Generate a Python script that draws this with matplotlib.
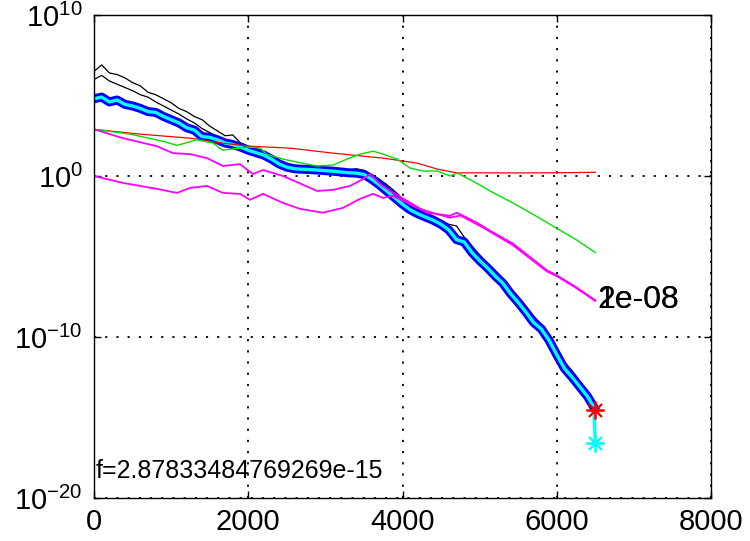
import matplotlib
matplotlib.use('Agg')
import matplotlib.pyplot as plt
import numpy as np

plt.rcParams['font.family'] = ['Liberation Sans', 'DejaVu Sans']
plt.rcParams['mathtext.default'] = 'regular'

# function evaluations and log10 values
evals = [0, 100, 200, 300, 400, 500, 600, 700, 800, 900, 1000, 1100, 1200, 1300,
         1400, 1500, 1600, 1700, 1800, 1900, 2000, 2100, 2200, 2300, 2400, 2500,
         2600, 2700, 2800, 2900, 3000, 3100, 3200, 3300, 3400, 3500, 3600, 3700,
         3800, 3900, 4000, 4100, 4200, 4300, 4400, 4500, 4600, 4700, 4800, 4900,
         5000, 5100, 5200, 5300, 5400, 5500, 5600, 5700, 5800, 5900, 6000, 6100,
         6200, 6300, 6400, 6480]
blue_log = [4.80, 4.90, 4.60, 4.72, 4.45, 4.35, 4.20, 4.00, 3.95, 3.70, 3.50, 3.30,
            3.00, 2.85, 2.45, 2.40, 2.25, 2.05, 1.95, 1.80, 1.60, 1.45, 1.30, 1.05,
            0.75, 0.55, 0.45, 0.42, 0.40, 0.37, 0.33, 0.30, 0.25, 0.20, 0.18, 0.10,
            -0.20, -0.55, -0.95, -1.35, -1.75, -2.10, -2.35, -2.55, -2.75, -3.00,
            -3.35, -3.95, -4.10, -4.75, -5.25, -5.70, -6.20, -6.65, -7.30, -7.85,
            -8.45, -9.10, -9.50, -10.20, -11.10, -11.95, -12.50, -13.10, -13.70, -14.35]
black_hi_log = [6.50, 6.90, 6.40, 6.30, 6.10, 5.80, 5.60, 5.20, 5.05, 4.80, 4.55, 4.20,
                4.00, 3.70, 3.50, 3.10, 2.80, 2.50, 2.55, 2.05, 1.85, 1.70, 1.55, 1.25,
                0.95, 0.75, 0.60, 0.55, 0.55, 0.52, 0.48, 0.45, 0.42, 0.38, 0.45, 0.35,
                0.10, -0.20, -0.55, -0.95, -1.40, -1.80, -2.10, -2.30, -2.50, -2.75,
                -3.00, -3.10, -3.80, -4.35, -4.90, -5.40, -5.85, -6.35, -6.95, -7.50,
                -8.10, -8.70, -9.20, -9.85, -10.65, -11.55, -12.10, -12.75, -13.40, -14.25]
black_lo_evals = [0, 100, 200, 300, 400, 500, 600, 700, 800, 900, 1000, 1100, 1200,
                  1300, 1400, 1500, 1600, 1700, 1800, 1900, 2000, 2100, 2200, 2300, 2400]
black_lo_log = [6.00, 6.25, 5.90, 5.70, 5.50, 5.30, 5.05, 4.90, 4.60, 4.35, 4.10, 3.85,
                3.55, 3.30, 2.95, 2.70, 2.45, 2.25, 2.10, 1.95, 1.75, 1.60, 1.45, 1.20, 0.88]

red_evals = [0, 600, 1245, 1673, 2023, 2541, 3100, 3750, 4190, 4450, 4710, 5000,
             5500, 6000, 6500]
red_log = [2.9, 2.6, 2.35, 2.04, 1.85, 1.73, 1.42, 1.11, 0.8, 0.43, 0.19, 0.2, 0.19,
           0.2, 0.23]

green_evals = [0, 470, 900, 1080, 1330, 1540, 1670, 1980, 2150, 2240, 2450, 2650,
               2890, 3100, 3280, 3450, 3620, 3750, 3930, 4100, 4270, 4450, 4620, 4710,
               5000, 5135, 5430, 5700, 6000, 6250, 6500]
green_log = [2.9, 2.6, 2.15, 1.9, 2.25, 2.05, 1.6, 1.8, 1.75, 1.35, 1.05, 0.85, 0.62,
             0.68, 1.05, 1.36, 1.54, 1.36, 1.05, 0.49, 0.31, 0.31, 0.0, 0.19, -0.55,
             -0.93, -1.67, -2.4, -3.25, -3.95, -4.75]

mag1_evals = [0, 376, 817, 1024, 1245, 1465, 1673, 1893, 2062, 2191, 2451, 2690,
              2892, 3099, 3319, 3488, 3579, 3708, 3838, 4058, 4318, 4616, 4707, 4966,
              5135, 5433, 5874, 6003, 6250, 6500]
mag1_log = [2.9, 2.35, 1.85, 1.42, 1.36, 1.11, 0.62, 0.74, 0.12, 0.37, 0.0, -0.5,
            -0.93, -0.86, -0.62, -0.19, 0.12, -0.49, -0.93, -1.54, -2.28, -2.47, -2.28,
            -2.90, -3.40, -4.20, -5.86, -6.17, -6.9, -7.72]
mag2_evals = [0, 376, 817, 1076, 1245, 1465, 1673, 1893, 2023, 2191, 2451, 2671,
              2969, 3228, 3449, 3618, 3747, 3877, 4188, 4400, 4616, 4750, 5044, 5433,
              5874, 6003, 6250, 6500]
mag2_log = [0.0, -0.43, -0.80, -1.05, -0.74, -0.62, -1.05, -1.11, -1.48, -1.11, -1.67,
            -2.04, -2.28, -1.98, -1.42, -1.11, -1.36, -1.23, -1.98, -2.3, -2.59, -2.45,
            -3.2, -4.3, -5.93, -6.22, -6.95, -7.76]

final_eval = 6500
f_best = 2.87833484769269e-15
cyan_end_log = -16.6
end_labels = ['1e-08', '2e-08']

xticks = [0, 2000, 4000, 6000, 8000]
yticks = [1e-20, 1e-10, 1e0, 1e10]
ytick_labels = ['$10^{-20}$', '$10^{-10}$', '$10^{0}$', '$10^{10}$']

fig = plt.figure(figsize=(7.5, 5.41), dpi=100)
ax = fig.add_axes([94 / 750, 1 - 498 / 541, 617 / 750, 483 / 541])

def p(v):
    return 10.0 ** np.array(v)

ax.semilogy(evals, p(black_hi_log), color='black', lw=0.9)
ax.semilogy(black_lo_evals, p(black_lo_log), color='black', lw=0.9)
ax.semilogy(evals, p(blue_log), color='#0000ff', lw=6.5, solid_joinstyle='round')
ax.semilogy(evals + [final_eval], p(blue_log + [cyan_end_log]), color='#00ffff', lw=2.4)
ax.semilogy(red_evals, p(red_log), color='#ff0000', lw=0.9)
ax.semilogy(green_evals, p(green_log), color='#00e000', lw=1.0)
ax.semilogy(mag1_evals, p(mag1_log), color='#ff00ff', lw=1.3)
ax.semilogy(mag2_evals, p(mag2_log), color='#ff00ff', lw=1.3)

star = (8, 2, 0)
ax.plot([final_eval], [f_best], marker=star, color='#ff0000', ms=13, mew=1.3, ls='none')
ax.plot([final_eval], [10.0 ** cyan_end_log], marker=star, color='#00ffff', ms=13,
        mew=1.3, ls='none')

for lab in end_labels:
    ax.text(final_eval + 30, 10.0 ** mag1_log[-1], lab, fontsize=23, ha='left',
            va='center', color='black')

ax.text(0.003, 0.056, 'f=2.87833484769269e-15', transform=ax.transAxes, fontsize=18,
        ha='left', va='center')

ax.set_xlim(0, 8000)
ax.set_ylim(1e-20, 1e10)
ax.set_xticks(xticks)
ax.set_xticklabels([str(t) for t in xticks])
ax.set_yticks(yticks)
ax.set_yticklabels(ytick_labels)
ax.minorticks_off()
ax.tick_params(direction='in', top=True, right=True, labelsize=21, length=5, width=1)
ax.tick_params(axis='x', pad=7)
ax.tick_params(axis='y', pad=8)
ax.grid(True, color='black', linestyle=(0, (1.2, 5)), lw=1.3)
for s in ax.spines.values():
    s.set_linewidth(1.0)

fig.savefig('out.png', dpi=100)
